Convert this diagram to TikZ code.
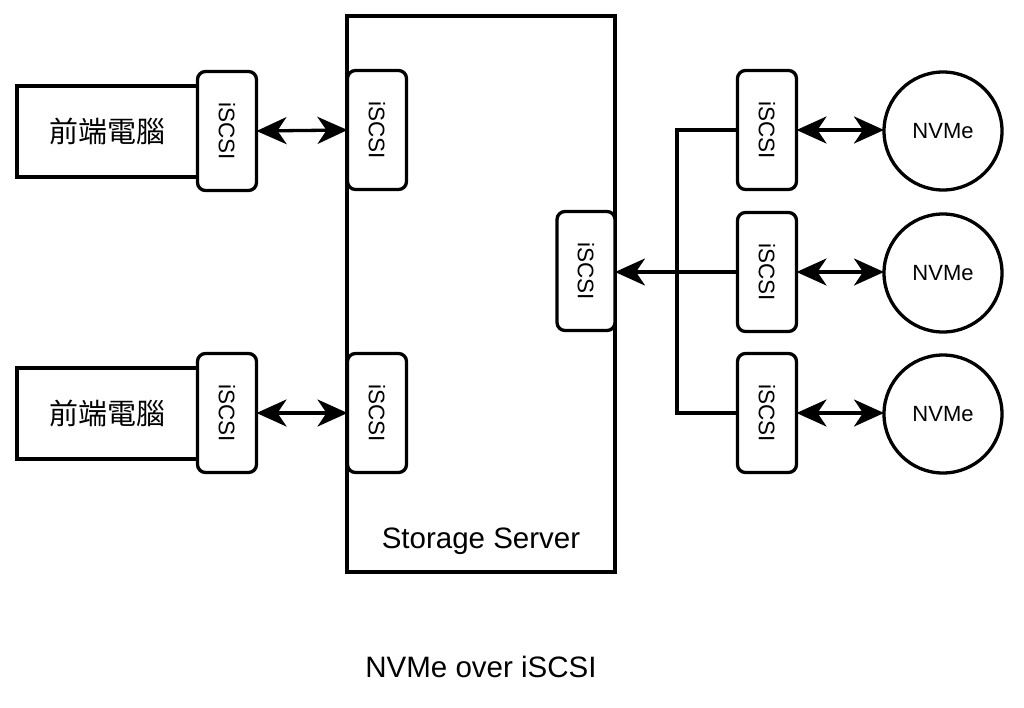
\documentclass[tikz,border=0pt]{standalone}
\usepackage{fontspec}
\setmainfont{Liberation Sans}
\newfontfamily\cjk{Noto Sans CJK TC}
\usetikzlibrary{arrows.meta}
\tikzset{
  headtip/.tip={Stealth[length=30pt,width=27pt,inset=9pt]}
}
\begin{document}
\begin{tikzpicture}[x=1pt,y=-1pt,
  every node/.style={inner sep=0pt,outer sep=0pt},
  box/.style={draw,line width=3.3pt,fill=white},
  port/.style={draw,line width=3.3pt,fill=white,rounded corners=8pt,minimum width=59pt,minimum height=119pt},
  disk/.style={draw,circle,line width=3.3pt,fill=white,minimum size=118pt,font=\fontsize{22}{24}\selectfont},
  link/.style={line width=3.3pt}
]
\useasboundingbox (0,0) rectangle (1024,707);
% storage server
\node[box,minimum width=268pt,minimum height=556pt,anchor=north west] (srv) at (347,16) {};
\node[font=\fontsize{29.5}{32}\selectfont] (srvlabel) at (481,541) {Storage Server};
% front-end computers
\node[box,minimum width=200pt,minimum height=91pt,anchor=north west] (pc1) at (17,86) {};
\node[box,minimum width=200pt,minimum height=91pt,anchor=north west] (pc2) at (17,368) {};
\node[font=\cjk\fontsize{29}{32}\selectfont] (pc1t) at (107,131) {前端電腦};
\node[font=\cjk\fontsize{29}{32}\selectfont] (pc2t) at (107,413) {前端電腦};
% ports
\node[port] (a1) at (227,131) {\rotatebox{-90}{\fontsize{22.5}{24}\selectfont iSCSI}};
\node[port] (a2) at (227,413) {\rotatebox{-90}{\fontsize{22.5}{24}\selectfont iSCSI}};
\node[port] (s1) at (377,130) {\rotatebox{-90}{\fontsize{22.5}{24}\selectfont iSCSI}};
\node[port] (s2) at (377,413) {\rotatebox{-90}{\fontsize{22.5}{24}\selectfont iSCSI}};
\node[port,minimum width=58pt] (sm) at (586,271) {\rotatebox{-90}{\fontsize{22.5}{24}\selectfont iSCSI}};
\node[port] (r1) at (767,130) {\rotatebox{-90}{\fontsize{22.5}{24}\selectfont iSCSI}};
\node[port] (r2) at (767,272) {\rotatebox{-90}{\fontsize{22.5}{24}\selectfont iSCSI}};
\node[port] (r3) at (767,413) {\rotatebox{-90}{\fontsize{22.5}{24}\selectfont iSCSI}};
% disks
\node[disk] (d1) at (943,131) {NVMe};
\node[disk] (d2) at (943,273) {NVMe};
\node[disk] (d3) at (943,414) {NVMe};
% connectors
\draw[link,{headtip}-{headtip}] (a1.east) -- (s1.west);
\draw[link,{headtip}-{headtip}] (a2.east) -- (s2.west);
\draw[link,{headtip}-{headtip}] (r1.east) -- (r1.east -| d1.west);
\draw[link,{headtip}-{headtip}] (r2.east) -- (r2.east -| d2.west);
\draw[link,{headtip}-{headtip}] (r3.east) -- (r3.east -| d3.west);
\coordinate (bus) at (677,130);
\draw[link] (r1.west) -- (bus) |- (r3.west);
\draw[link,-{headtip}] (r2.west) -- (r2.west -| sm.east);
% caption
\node[font=\fontsize{29.5}{32}\selectfont] (cap) at (481,667) {NVMe over iSCSI};
\end{tikzpicture}
\end{document}
